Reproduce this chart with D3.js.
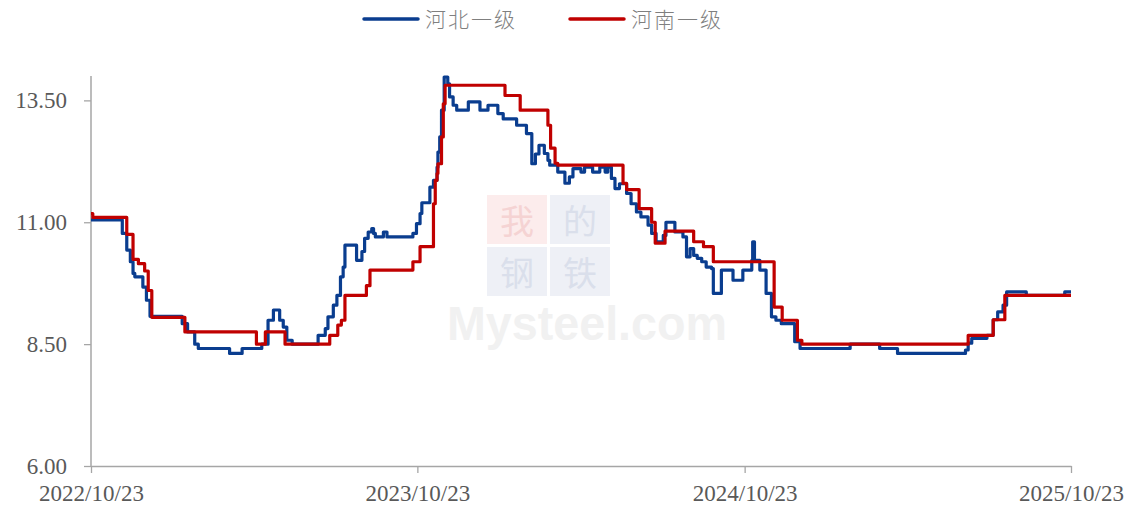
<!DOCTYPE html>
<html><head><meta charset="utf-8">
<script src="https://cdn.jsdelivr.net/npm/d3@7/dist/d3.min.js"></script>
<style>
html,body{margin:0;padding:0;background:#fff;}
svg{display:block;}
</style></head>
<body>
<svg id="chart" width="1135" height="507"></svg>
<script>
// ---------- DATA ----------
const seriesNames = ["河北一级", "河南一级"];
const yTickValues = [6, 8.5, 11, 13.5];
const xTickLabels = ["2022/10/23", "2023/10/23", "2024/10/23", "2025/10/23"];

const hebeiDates = ["2022-10-23","2022-11-27","2022-12-02","2022-12-06","2022-12-09","2022-12-11","2022-12-20","2022-12-24","2022-12-28",
"2023-02-02","2023-02-08","2023-02-16","2023-02-20","2023-03-27","2023-04-10","2023-05-02","2023-05-09","2023-05-15","2023-05-22","2023-05-26","2023-05-30","2023-06-05",
"2023-07-04","2023-07-12","2023-07-15","2023-07-21","2023-07-25","2023-07-29","2023-08-01","2023-08-03","2023-08-16","2023-08-22","2023-08-25","2023-08-29","2023-09-02","2023-09-04","2023-09-06","2023-09-15","2023-09-19",
"2023-10-18","2023-10-22","2023-10-26","2023-10-28","2023-11-06","2023-11-10","2023-11-14","2023-11-15","2023-11-17","2023-11-19","2023-11-22","2023-11-26","2023-11-28","2023-12-02","2023-12-06","2023-12-19",
"2024-01-01","2024-01-10","2024-01-21","2024-01-27","2024-02-11","2024-02-22","2024-02-28","2024-03-03","2024-03-07","2024-03-13","2024-03-17","2024-03-19","2024-03-28","2024-04-05","2024-04-10","2024-04-14","2024-04-23","2024-04-27","2024-05-06","2024-05-14","2024-05-20","2024-05-23","2024-05-27","2024-05-31",
"2024-06-05","2024-06-13","2024-06-18","2024-06-24","2024-06-29","2024-07-07","2024-07-11","2024-07-16","2024-07-24","2024-07-27","2024-08-06","2024-08-15","2024-08-19","2024-08-23","2024-08-27","2024-08-31","2024-09-05","2024-09-10","2024-09-16","2024-09-18","2024-09-27","2024-10-04","2024-10-10","2024-10-21","2024-10-31","2024-11-01","2024-11-03","2024-11-09","2024-11-16","2024-11-22","2024-11-27","2024-12-03","2024-12-18","2024-12-24",
"2025-02-18","2025-03-23","2025-04-12","2025-06-27","2025-06-30","2025-07-04","2025-07-21","2025-07-28","2025-08-02","2025-08-08","2025-08-12","2025-09-03","2025-10-16","2025-10-23"];
const hebeiValues = [11.05,10.77,10.43,10.19,9.95,9.88,9.67,9.4,9.07,
8.92,8.75,8.5,8.41,8.31,8.41,8.5,8.99,9.2,8.99,8.85,8.58,8.5,
8.68,8.82,9.06,9.3,9.5,9.88,10.08,10.53,10.22,10.4,10.67,10.8,10.87,10.77,10.7,10.8,10.7,
10.77,10.97,11.18,11.4,11.72,11.86,12.13,12.44,12.75,13.3,13.98,13.84,13.57,13.4,13.3,13.47,
13.3,13.4,13.23,13.12,12.99,12.82,12.2,12.4,12.58,12.41,12.27,12.17,12.03,11.8,11.93,12.1,12.03,12.13,12.03,12.13,12.03,12.13,11.9,11.69,
11.79,11.59,11.38,11.21,11.11,10.94,10.77,10.6,10.73,11.0,10.8,10.7,10.29,10.46,10.32,10.26,10.19,10.08,10.05,9.54,10.02,10.02,9.81,10.02,10.22,10.6,10.22,10.02,9.54,9.06,8.99,8.92,8.55,8.41,
8.5,8.41,8.31,8.38,8.52,8.62,8.68,9.0,9.16,9.3,9.57,9.5,9.57,9.57];

const henanDates = ["2022-10-23","2022-10-25","2022-12-02","2022-12-09","2022-12-15","2022-12-22","2022-12-26","2022-12-30","2023-02-05","2023-04-26","2023-05-06","2023-05-28",
"2023-07-17","2023-07-26","2023-07-30","2023-08-03","2023-08-27","2023-08-31","2023-10-18","2023-10-26","2023-11-08","2023-11-10","2023-11-12","2023-11-14","2023-11-15","2023-11-19","2023-11-21","2023-11-23",
"2024-01-29","2024-02-15","2024-03-17","2024-03-20","2024-03-25","2024-03-28","2024-06-09","2024-06-13","2024-06-27","2024-07-11","2024-07-15","2024-07-26","2024-08-27","2024-09-07","2024-09-18",
"2024-11-25","2024-12-04","2024-12-21","2024-12-26","2025-06-30","2025-07-28","2025-08-10","2025-10-23"];
const henanValues = [11.18,11.1,10.75,10.24,10.15,10.0,9.6,9.05,8.75,8.5,8.75,8.5,
8.68,8.89,8.99,9.5,9.7,10.02,10.19,10.5,10.5,11.38,11.86,12.0,12.2,12.75,13.43,13.81,
13.6,13.3,12.99,12.52,12.21,12.17,11.8,11.67,11.28,11.0,10.57,10.82,10.6,10.5,10.19,
9.26,8.99,8.58,8.5,8.68,9.0,9.5,9.5];

// ---------- CHART ----------
const parse = d3.timeParse("%Y-%m-%d");
const parseLabel = d3.timeParse("%Y/%m/%d");
const svg = d3.select("#chart");
const plotLeft = 91, plotRight = 1071, plotTop = 76, plotBottom = 466;

const x = d3.scaleTime()
  .domain([parseLabel(xTickLabels[0]), parseLabel(xTickLabels[xTickLabels.length - 1])])
  .range([plotLeft, plotRight]);
const y = d3.scaleLinear().domain([6, 14]).range([plotBottom, plotTop]);

// watermark
const wm = svg.append("g").attr("class", "watermark");
const wmCells = [
  {ch: "我", cx: 0, cy: 0, bg: "#fcecec", fg: "#f5d3d3"},
  {ch: "的", cx: 1, cy: 0, bg: "#eef0f6", fg: "#dadfeb"},
  {ch: "钢", cx: 0, cy: 1, bg: "#eef0f6", fg: "#dadfeb"},
  {ch: "铁", cx: 1, cy: 1, bg: "#eef0f6", fg: "#dadfeb"}
];
wmCells.forEach(c => {
  wm.append("rect").attr("x", 487 + c.cx * 63).attr("y", 195 + c.cy * 52)
    .attr("width", 60).attr("height", 49).attr("fill", c.bg);
  wm.append("text").attr("x", 517 + c.cx * 63).attr("y", 234 + c.cy * 52)
    .attr("text-anchor", "middle").attr("font-family", "Noto Sans CJK SC")
    .attr("font-size", 34).attr("fill", c.fg).text(c.ch);
});
wm.append("text").attr("x", 447).attr("y", 340)
  .attr("font-family", "Liberation Sans, Arial").attr("font-weight", "bold")
  .attr("font-size", 48).attr("fill", "#f1f1f1").attr("textLength", 280)
  .attr("lengthAdjust", "spacingAndGlyphs")
  .text("Mysteel.com");

// axes
const axisColor = "#a6a6a6";
const textColor = "#595959";
const gy = svg.append("g").attr("transform", `translate(${plotLeft},0)`)
  .call(d3.axisLeft(y).tickValues(yTickValues).tickFormat(d3.format(".2f")).tickSize(7).tickSizeOuter(0).tickPadding(6));
const gx = svg.append("g").attr("transform", `translate(0,${plotBottom})`)
  .call(d3.axisBottom(x).tickValues(xTickLabels.map(parseLabel)).tickFormat(d3.timeFormat("%Y/%m/%d")).tickSize(7).tickSizeOuter(0).tickPadding(12));
[gx, gy].forEach(g => {
  g.select(".domain").attr("stroke", axisColor).attr("stroke-width", 1.5);
  g.selectAll(".tick line").attr("stroke", axisColor).attr("stroke-width", 1.3);
  g.selectAll(".tick text").attr("fill", textColor)
    .attr("font-family", "Liberation Serif, 'Times New Roman', serif").attr("font-size", 23);
});
gy.select(".domain").attr("d", `M0,${plotTop}V${plotBottom}`);
gy.selectAll(".tick text").attr("dx", -11);

// lines
const line = d3.line().x(d => x(d.date)).y(d => y(d.value)).curve(d3.curveStepAfter);
const hebei = hebeiDates.map((d, i) => ({date: parse(d), value: hebeiValues[i]}));
const henan = henanDates.map((d, i) => ({date: parse(d), value: henanValues[i]}));
const colors = ["#0a3d8f", "#c00000"];
[hebei, henan].forEach((data, i) => {
  svg.append("path").datum(data).attr("d", line).attr("fill", "none")
    .attr("stroke", colors[i]).attr("stroke-width", 3.2).attr("stroke-linejoin", "round");
});

// legend
const legendX = [364, 570];
seriesNames.forEach((name, i) => {
  const g = svg.append("g").attr("transform", `translate(${legendX[i]},19)`);
  g.append("line").attr("x1", 0).attr("x2", 54).attr("y1", 0).attr("y2", 0)
    .attr("stroke", colors[i]).attr("stroke-width", 3.5).attr("stroke-linecap", "round");
  g.append("text").attr("x", 61).attr("y", 8).attr("fill", "#7f7f7f")
    .attr("font-family", "Noto Sans CJK SC").attr("font-weight", 300)
    .attr("font-size", 21).attr("letter-spacing", 2).text(name);
});
</script>
</body></html>
